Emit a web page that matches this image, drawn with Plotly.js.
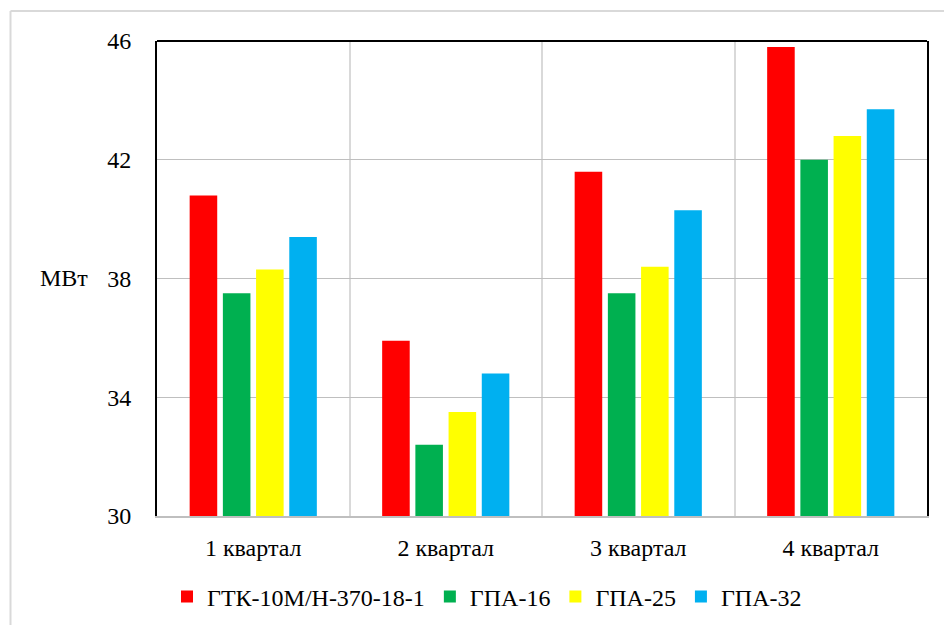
<!DOCTYPE html>
<html>
<head>
<meta charset="utf-8">
<script src="https://cdn.plot.ly/plotly-3.0.1.min.js"></script>
<style>
html,body{margin:0;padding:0;background:#fff;}
#chart{width:944px;height:625px;}
</style>
</head>
<body>
<div id="chart"></div>
<script>
const categories = ["1 квартал", "2 квартал", "3 квартал", "4 квартал"];
const seriesNames = ["ГТК-10М/Н-370-18-1", "ГПА-16", "ГПА-25", "ГПА-32"];
const gtk10 = [40.8, 35.9, 41.6, 45.8];
const gpa16 = [37.5, 32.4, 37.5, 42.0];
const gpa25 = [38.3, 33.5, 38.4, 42.8];
const gpa32 = [39.4, 34.8, 40.3, 43.7];
const yTicks = [30, 34, 38, 42, 46];
const colors = ["#ff0000", "#00b050", "#ffff00", "#00b0f0"];

const seriesValues = [gtk10, gpa16, gpa25, gpa32];
const FONT = "Liberation Serif";
const FS = 24;

const traces = seriesValues.map((vals, i) => ({
  type: "bar",
  name: seriesNames[i],
  x: categories,
  y: vals,
  marker: {color: colors[i], line: {width: 0}},
  hoverinfo: "x+y+name"
}));

const W = 944, H = 625;
const L = 157, R = 17, T = 41, B = 109;
const pw = W - L - R, ph = H - T - B;
const px = v => (v - L) / pw;
const py = v => (H - B - v) / ph;

const layout = {
  width: W, height: H,
  margin: {l: L, r: R, t: T, b: B, autoexpand: false},
  paper_bgcolor: "#ffffff",
  plot_bgcolor: "#ffffff",
  font: {family: FONT, size: FS, color: "#000000"},
  barmode: "group",
  bargap: 0.31,
  bargroupgap: 0.17,
  showlegend: true,
  legend: {
    orientation: "h",
    x: px(167), xanchor: "left",
    y: py(597), yanchor: "middle",
    itemgap: 5,
    font: {family: FONT, size: FS, color: "#000"},
    itemclick: false
  },
  xaxis: {
    type: "category",
    tickson: "boundaries",
    showgrid: true,
    gridcolor: "#d9d9d9",
    gridwidth: 2,
    ticks: "",
    showline: true,
    linecolor: "#bfbfbf",
    linewidth: 2,
    automargin: false,
    ticklabelstandoff: 9,
    tickfont: {family: FONT, size: FS, color: "#000"},
    fixedrange: true
  },
  yaxis: {
    range: [30, 46],
    tickvals: yTicks,
    ticktext: yTicks.map(String),
    showgrid: true,
    gridcolor: "#bfbfbf",
    gridwidth: 1,
    zeroline: false,
    ticks: "",
    showline: true,
    linecolor: "#000000",
    linewidth: 2,
    mirror: true,
    automargin: false,
    ticklabelstandoff: 19,
    tickfont: {family: FONT, size: FS, color: "#000"},
    fixedrange: true
  },
  shapes: [
    {type: "line", xref: "paper", yref: "paper", x0: 0, x1: 1, y0: 1, y1: 1,
     line: {color: "#000000", width: 2}},
    {type: "line", xref: "paper", yref: "paper", x0: px(10.5), x1: px(944), y0: py(11), y1: py(11),
     line: {color: "#d9d9d9", width: 2}},
    {type: "line", xref: "paper", yref: "paper", x0: px(10.5), x1: px(10.5), y0: py(11), y1: py(625),
     line: {color: "#d9d9d9", width: 2}}
  ],
  annotations: [
    {text: "МВт", xref: "paper", yref: "paper", x: px(90), y: py(278),
     xanchor: "right", yanchor: "middle", showarrow: false,
     font: {family: FONT, size: FS, color: "#000"}}
  ]
};

Plotly.newPlot("chart", traces, layout, {displayModeBar: false, staticPlot: true});
</script>
</body>
</html>
